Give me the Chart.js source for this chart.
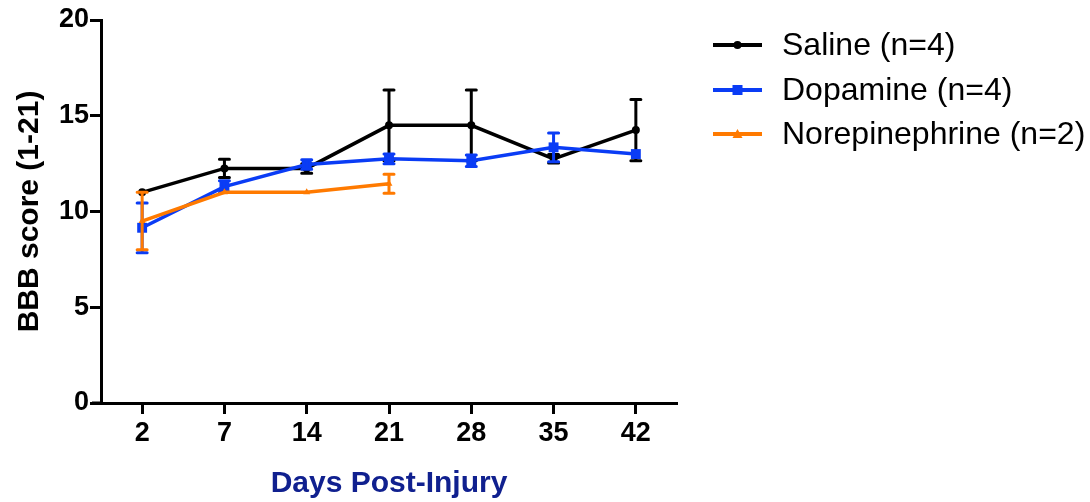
<!DOCTYPE html>
<html><head><meta charset="utf-8">
<script src="https://cdn.jsdelivr.net/npm/chart.js@4.4.1/dist/chart.umd.min.js"></script>
<style>html,body{margin:0;padding:0;background:#fff;}#wrap{width:1090px;height:502px;}</style>
</head><body><div id="wrap"><canvas id="c" width="1090" height="502"></canvas></div>
<script>
const days = ['2', '7', '14', '21', '28', '35', '42'];
const salineMean = [11.0, 12.25, 12.25, 14.5, 14.5, 12.75, 14.25];
const salineErr = [0, 0.48, 0.25, 1.85, 1.85, 0.22, 1.6];
const dopamineMean = [9.15, 11.3, 12.45, 12.75, 12.65, 13.35, 13.0];
const dopamineErr = [1.3, 0.3, 0.25, 0.25, 0.3, 0.75, 0];
const norepiMean = [9.5, 11.0, 11.0, 11.45, null, null, null];
const norepiErr = [1.5, 0, 0, 0.5, null, null, null];
const seriesNames = ['Saline (n=4)', 'Dopamine (n=4)', 'Norepinephrine (n=2)'];
const seriesColors = ['#000000', '#0a3cf5', '#ff7a00'];
const seriesMarkers = ['circle', 'rect', 'triangle'];
const yTickValues = [0, 5, 10, 15, 20];

const FONT = '"Liberation Sans", Arial, sans-serif';

const errorBars = {
  id: 'errorBars',
  afterDatasetDraw(chart, args) {
    const ds = chart.data.datasets[args.index];
    const errs = ds.errorValues;
    if (!errs) return;
    const ys = chart.scales.y;
    const ctx = chart.ctx;
    ctx.save();
    ctx.strokeStyle = ds.borderColor;
    ctx.lineWidth = 3;
    ctx.lineCap = 'round';
    args.meta.data.forEach((pt, i) => {
      const v = ds.data[i], e = errs[i];
      if (v == null || !e) return;
      const x = pt.x;
      const yt = ys.getPixelForValue(v + e), yb = ys.getPixelForValue(v - e);
      ctx.beginPath();
      ctx.moveTo(x, yt); ctx.lineTo(x, yb);
      ctx.moveTo(x - 5, yt); ctx.lineTo(x + 5, yt);
      ctx.moveTo(x - 5, yb); ctx.lineTo(x + 5, yb);
      ctx.stroke();
    });
    ctx.restore();
  }
};

const axisStub = {
  id: 'axisStub',
  afterDraw(chart) {
    const a = chart.chartArea, ctx = chart.ctx;
    ctx.save();
    ctx.strokeStyle = '#000'; ctx.lineWidth = 3;
    ctx.beginPath(); ctx.moveTo(a.left - 9, a.bottom); ctx.lineTo(a.left, a.bottom); ctx.stroke();
    ctx.restore();
  }
};

// legend: line + marker sample, then the series label
const sideLegend = {
  id: 'sideLegend',
  afterDraw(chart) {
    const ctx = chart.ctx, a = chart.chartArea;
    const x0 = a.right + 36, lineLen = 49, textX = x0 + 69;
    const rowY = [45, 90, 134];
    ctx.save();
    chart.data.datasets.forEach((ds, i) => {
      const y = rowY[i];
      const col = ds.borderColor;
      ctx.strokeStyle = col; ctx.fillStyle = col; ctx.lineWidth = 4;
      ctx.beginPath(); ctx.moveTo(x0, y); ctx.lineTo(x0 + lineLen, y); ctx.stroke();
      const cx = x0 + lineLen / 2;
      const m = seriesMarkers[i];
      if (m === 'circle') { ctx.beginPath(); ctx.arc(cx, y, 4, 0, 2 * Math.PI); ctx.fill(); }
      else if (m === 'rect') { ctx.fillRect(cx - 5, y - 5, 10, 10); }
      else { ctx.beginPath(); ctx.moveTo(cx, y - 5); ctx.lineTo(cx + 5, y + 4); ctx.lineTo(cx - 5, y + 4); ctx.closePath(); ctx.fill(); }
      ctx.fillStyle = '#000';
      ctx.font = '32px ' + FONT;
      ctx.textAlign = 'left';
      ctx.textBaseline = 'middle';
      ctx.fillText(ds.label, textX, y + 1);
    });
    ctx.restore();
  }
};

new Chart(document.getElementById('c'), {
  type: 'line',
  data: {
    labels: days,
    datasets: [
      { label: seriesNames[0], data: salineMean, errorValues: salineErr, borderColor: seriesColors[0], backgroundColor: seriesColors[0],
        borderWidth: 3.5, pointStyle: seriesMarkers[0], pointRadius: 4, pointBorderWidth: 0, order: 2, tension: 0 },
      { label: seriesNames[1], data: dopamineMean, errorValues: dopamineErr, borderColor: seriesColors[1], backgroundColor: seriesColors[1],
        borderWidth: 3.5, pointStyle: seriesMarkers[1], pointRadius: 7, pointBorderWidth: 0, order: 1, tension: 0 },
      { label: seriesNames[2], data: norepiMean, errorValues: norepiErr, borderColor: seriesColors[2], backgroundColor: seriesColors[2],
        borderWidth: 3.5, pointStyle: seriesMarkers[2], pointRadius: 4, pointBorderWidth: 0, order: 0, tension: 0 }
    ]
  },
  options: {
    responsive: false,
    animation: false,
    devicePixelRatio: 1,
    layout: { padding: { top: 20, left: 0, right: 413, bottom: 0 } },
    plugins: {
      tooltip: { enabled: false },
      legend: { display: false }
    },
    scales: {
      x: {
        type: 'category',
        offset: true,
        afterFit(s) { s.height = 99; },
        border: { display: true, color: '#000', width: 3 },
        grid: { display: true, drawOnChartArea: false, drawTicks: true, tickLength: 11, tickWidth: 3, tickColor: '#000', offset: false },
        ticks: { color: '#000', padding: 3, font: { family: FONT, size: 27, weight: 'bold' }, maxRotation: 0 },
        title: { display: true, text: 'Days Post-Injury', color: '#10208f', font: { family: FONT, size: 30, weight: 'bold' }, padding: { top: 0, bottom: 0 } }
      },
      y: {
        min: 0, max: 20,
        afterFit(s) { s.width = 101; },
        afterBuildTicks(s) { s.ticks = yTickValues.map(v => ({ value: v })); },
        border: { display: true, color: '#000', width: 3 },
        grid: { display: true, drawOnChartArea: false, drawTicks: true, tickLength: 11, tickWidth: 3, tickColor: '#000' },
        ticks: { color: '#000', padding: 1, font: { family: FONT, size: 27, weight: 'bold' } },
        title: { display: true, text: 'BBB score (1-21)', color: '#000', font: { family: FONT, size: 30, weight: 'bold' }, padding: { top: 12, bottom: 0 } }
      }
    }
  },
  plugins: [errorBars, axisStub, sideLegend]
});
</script>
</body></html>
